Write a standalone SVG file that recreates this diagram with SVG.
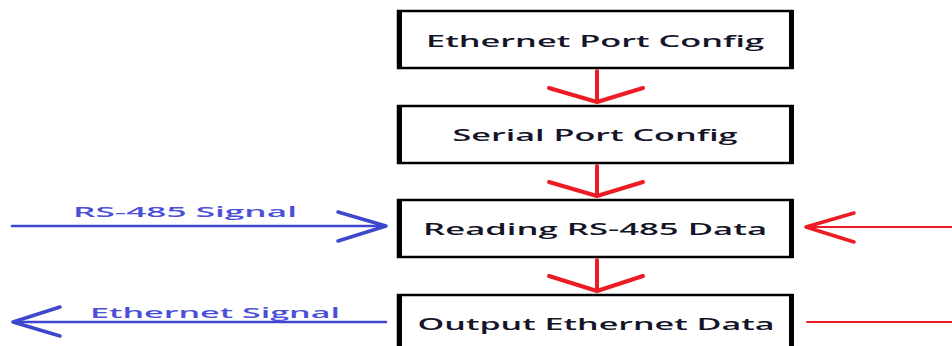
<svg xmlns="http://www.w3.org/2000/svg" width="952" height="346" viewBox="0 0 952 346">
  <style>
    .box { fill: #ffffff; stroke: #000000; stroke-width: 2.5; }
    .side { stroke: #000000; stroke-width: 5; fill: none; }
    .label { font-family: "Open Sans", "Noto Sans", sans-serif; font-size: 16.5px; font-weight: 600; fill: #15152a; text-anchor: middle; }
    .sig { font-family: "Open Sans", "Noto Sans", sans-serif; font-size: 14.5px; font-weight: 600; fill: #4b4fd8; text-anchor: middle; }
    .red { stroke: #ec1c24; fill: none; stroke-linecap: round; stroke-linejoin: round; }
    .blue { stroke: #3f48cc; fill: none; stroke-linecap: round; stroke-linejoin: round; }
  </style>

  <g id="node-ethernet-config">
    <rect class="box" x="398" y="11" width="394" height="57"/>
    <path class="side" d="M399.5 10 V69 M791.5 10 V69"/>
    <text class="label" x="595" y="47" textLength="338" lengthAdjust="spacingAndGlyphs">Ethernet Port Config</text>
  </g>

  <g id="node-serial-config">
    <rect class="box" x="398" y="106" width="394" height="57"/>
    <path class="side" d="M399.5 105 V164 M791.5 105 V164"/>
    <text class="label" x="595" y="141" textLength="285" lengthAdjust="spacingAndGlyphs">Serial Port Config</text>
  </g>

  <g id="node-reading">
    <rect class="box" x="398" y="200" width="394" height="57"/>
    <path class="side" d="M399.5 199 V258 M791.5 199 V258"/>
    <text class="label" x="595" y="235" textLength="344" lengthAdjust="spacingAndGlyphs">Reading RS-485 Data</text>
  </g>

  <g id="node-output">
    <rect class="box" x="398" y="295" width="394" height="70"/>
    <path class="side" d="M399.5 294 V360 M791.5 294 V360"/>
    <text class="label" x="596" y="330" textLength="357" lengthAdjust="spacingAndGlyphs">Output Ethernet Data</text>
  </g>

  <g id="connectors">
    <!-- flow arrows between steps -->
    <path class="red" stroke-width="4" d="M597 71 V101 M549 88 L597 102 L643 88"/>
    <path class="red" stroke-width="4" d="M597 166 V195 M549 182 L597 196 L643 182"/>
    <path class="red" stroke-width="4" d="M597 260 V290 M549 276 L597 291 L643 276"/>

    <!-- incoming RS-485 signal -->
    <path class="blue" stroke-width="2.5" d="M12 226 H385"/>
    <path class="blue" stroke-width="3.5" d="M338 212 L386 226 L338 241"/>
    <text class="sig" x="185" y="217" textLength="224" lengthAdjust="spacingAndGlyphs">RS-485 Signal</text>

    <!-- outgoing Ethernet signal -->
    <path class="blue" stroke-width="2.5" d="M13 322 H386"/>
    <path class="blue" stroke-width="3.5" d="M60 307 L13 322 L60 336"/>
    <text class="sig" x="215" y="318" textLength="250" lengthAdjust="spacingAndGlyphs">Ethernet Signal</text>

    <!-- right side red lines -->
    <path class="red" stroke-width="2" d="M806 227 H952"/>
    <path class="red" stroke-width="3.5" d="M854 213 L806 227 L854 242"/>
    <path class="red" stroke-width="2" d="M807 322 H952"/>
  </g>
</svg>
